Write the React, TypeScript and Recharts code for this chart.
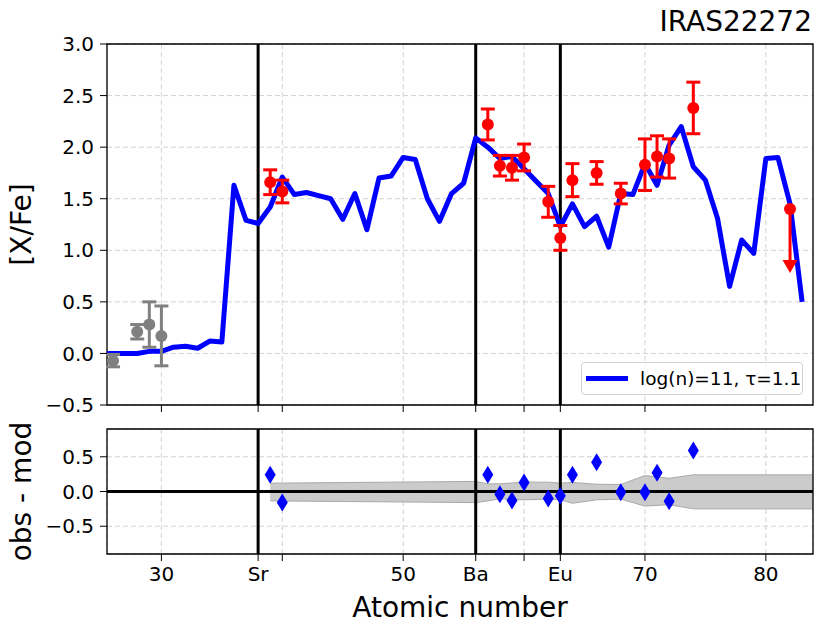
import React from "react"
import {
  ComposedChart,
  Line,
  Area,
  Scatter,
  ErrorBar,
  XAxis,
  YAxis,
  CartesianGrid,
  ReferenceLine,
  ReferenceArea,
} from "recharts"

const FONT = "DejaVu Sans"

// model curve, log(n)=11, tau=1.1
const modelZ = [
  25, 26, 27, 28, 29, 30, 31, 32, 33, 34, 35, 36, 37, 38, 39, 40, 41, 42, 43, 44,
  45, 46, 47, 48, 49, 50, 51, 52, 53, 54, 55, 56, 57, 58, 59, 60, 61, 62, 63, 64,
  65, 66, 67, 68, 69, 70, 71, 72, 73, 74, 75, 76, 77, 78, 79, 80, 81, 82, 83,
]
const modelXFe = [
  0.0, 0.0, 0.0, 0.0, 0.02, 0.02, 0.06, 0.07, 0.05, 0.12, 0.11, 1.63, 1.29, 1.26, 1.42, 1.71, 1.54, 1.56, 1.53, 1.5,
  1.3, 1.55, 1.2, 1.7, 1.72, 1.9, 1.88, 1.5, 1.28, 1.55, 1.65, 2.09, 2.0, 1.89, 1.91, 1.79, 1.67, 1.55, 1.23, 1.45,
  1.23, 1.33, 1.03, 1.55, 1.54, 1.84, 1.63, 2.02, 2.2, 1.81, 1.68, 1.31, 0.65, 1.1, 0.97, 1.89, 1.9, 1.45, 0.5,
]

// observed s-process elements (red)
const obsZ = [39, 40, 57, 58, 59, 60, 62, 63, 64, 66, 68, 70, 71, 72, 74]
const obsXFe = [1.66, 1.57, 2.22, 1.82, 1.8, 1.9, 1.47, 1.12, 1.68, 1.75, 1.55, 1.83, 1.91, 1.89, 2.38]
const obsErr = [0.12, 0.11, 0.15, 0.1, 0.12, 0.13, 0.15, 0.12, 0.16, 0.11, 0.1, 0.25, 0.2, 0.19, 0.25]

// light elements (gray)
const lightZ = [26, 28, 29, 30]
const lightXFe = [-0.07, 0.21, 0.28, 0.17]
const lightErr = [0.06, 0.07, 0.22, 0.29]

// Pb upper limit
const limZ = 82
const limXFe = 1.4
const limStemEnd = 0.9
const limTip = 0.78

// residuals
const diffZ = [39, 40, 57, 58, 59, 60, 62, 63, 64, 66, 68, 70, 71, 72, 74]
const diffVal = [0.24, -0.16, 0.24, -0.04, -0.13, 0.13, -0.1, -0.06, 0.24, 0.42, -0.01, -0.01, 0.27, -0.14, 0.59]

// model uncertainty band
const bandZ = [39, 56, 57, 58, 60, 62, 63, 64, 66, 68, 70, 72, 74, 84]
const bandLow = [-0.135, -0.16, -0.135, -0.105, -0.12, -0.11, -0.12, -0.17, -0.12, -0.11, -0.21, -0.19, -0.25, -0.25]
const bandHigh = [0.12, 0.145, 0.11, 0.11, 0.135, 0.135, 0.12, 0.13, 0.105, 0.1, 0.23, 0.19, 0.24, 0.24]

const xTicks = [30, 38, 40, 50, 56, 60, 63, 70, 80]
const xTickLabels = ["30", "Sr", "", "50", "Ba", "", "Eu", "70", "80"]
const markedZ = [38, 56, 63]
const yTicksTop = [-0.5, 0, 0.5, 1, 1.5, 2, 2.5, 3]
const yTicksBottom = [-0.5, 0, 0.5]

const X_DOMAIN: [number, number] = [25.5, 83.9]

const modelRows = modelZ.map((z, i) => ({ z, v: modelXFe[i] }))
const obsRows = obsZ.map((z, i) => ({ z, v: obsXFe[i], err: obsErr[i] }))
const lightRows = lightZ.map((z, i) => ({ z, v: lightXFe[i], err: lightErr[i] }))
const limRows = [{ z: limZ, v: limXFe }]
const limStem = [{ z: limZ, v: limXFe }, { z: limZ, v: limStemEnd }]
const limTipRows = [{ z: limZ, v: limTip }]
const diffRows = diffZ.map((z, i) => ({ z, v: diffVal[i] }))
const bandRows = bandZ.map((z, i) => ({ z, range: [bandLow[i], bandHigh[i]] }))

const fmtY = (v: number) => (v < 0 ? "\u2212" : "") + Math.abs(v).toFixed(1)
const fmtX = (v: number) => xTickLabels[xTicks.indexOf(v)] ?? String(v)

const tickStyle = { fill: "#000", fontSize: 20, fontFamily: FONT }
const gridColor = "#d3d3d3"

const dot = (color: string) => (p: any) => <circle cx={p.cx} cy={p.cy} r={6} fill={color} />
const arrowDown = (p: any) => (
  <path d={`M${p.cx - 7.5},${p.cy - 13} L${p.cx + 7.5},${p.cy - 13} L${p.cx},${p.cy} Z`} fill="#ff0000" />
)
const diamond = (p: any) => (
  <path d={`M${p.cx},${p.cy - 9} L${p.cx + 5.5},${p.cy} L${p.cx},${p.cy + 9} L${p.cx - 5.5},${p.cy} Z`} fill="#0000ff" />
)

const yTitle = (text: string) => (props: any) => {
  const vb = props.viewBox || { y: 0, height: 0 }
  const cy = vb.y + vb.height / 2
  return (
    <text x={31} y={cy} transform={`rotate(-90 31 ${cy})`} textAnchor="middle" fontSize={28} fontFamily={FONT} fill="#000">
      {text}
    </text>
  )
}

const xTitle = (props: any) => {
  const vb = props.viewBox || { x: 0, y: 0, width: 0 }
  return (
    <text x={vb.x + vb.width / 2} y={vb.y + 63} textAnchor="middle" fontSize={28} fontFamily={FONT} fill="#000">
      Atomic number
    </text>
  )
}

function TopPanel() {
  return (
    <ComposedChart width={830} height={430} data={modelRows} margin={{ top: 44, right: 17, bottom: 0, left: 0 }}>
      <CartesianGrid stroke={gridColor} strokeDasharray="5 3" />
      <XAxis
        dataKey="z"
        type="number"
        domain={X_DOMAIN}
        allowDataOverflow
        ticks={xTicks}
        tickFormatter={() => ""}
        height={25}
        tickSize={7}
        axisLine={false}
        tickLine={{ stroke: "#000" }}
      />
      <YAxis
        type="number"
        domain={[-0.5, 3]}
        allowDataOverflow
        ticks={yTicksTop}
        tickFormatter={fmtY}
        width={107}
        tickSize={7}
        tickMargin={6}
        tick={tickStyle}
        axisLine={false}
        tickLine={{ stroke: "#000" }}
        label={{ value: "[X/Fe]", content: yTitle("[X/Fe]") }}
      />
      {markedZ.map((z) => (
        <ReferenceLine key={z} x={z} stroke="#000" strokeWidth={3} />
      ))}
      <Line dataKey="v" stroke="#0000ff" strokeWidth={5} dot={false} strokeLinejoin="round" isAnimationActive={false} />
      <Scatter data={lightRows} dataKey="v" shape={dot("#808080")} isAnimationActive={false}>
        <ErrorBar dataKey="err" direction="y" width={7} stroke="#808080" strokeWidth={3} />
      </Scatter>
      <Scatter data={obsRows} dataKey="v" shape={dot("#ff0000")} isAnimationActive={false}>
        <ErrorBar dataKey="err" direction="y" width={7} stroke="#ff0000" strokeWidth={3} />
      </Scatter>
      <Line data={limStem} dataKey="v" stroke="#ff0000" strokeWidth={3} dot={false} isAnimationActive={false} />
      <Scatter data={limRows} dataKey="v" shape={dot("#ff0000")} isAnimationActive={false} />
      <Scatter data={limTipRows} dataKey="v" shape={arrowDown} isAnimationActive={false} />
      <ReferenceArea x1={X_DOMAIN[0]} x2={X_DOMAIN[1]} y1={-0.5} y2={3} fill="none" stroke="#000" strokeWidth={1.3} />
    </ComposedChart>
  )
}

function BottomPanel() {
  return (
    <ComposedChart width={830} height={213} data={bandRows} margin={{ top: 19, right: 17, bottom: 0, left: 0 }}>
      <CartesianGrid stroke={gridColor} strokeDasharray="5 3" />
      <XAxis
        dataKey="z"
        type="number"
        domain={X_DOMAIN}
        allowDataOverflow
        ticks={xTicks}
        tickFormatter={fmtX}
        height={69}
        tickSize={7}
        tickMargin={6}
        tick={tickStyle}
        axisLine={false}
        tickLine={{ stroke: "#000" }}
        label={{ value: "Atomic number", content: xTitle }}
      />
      <YAxis
        type="number"
        domain={[-0.9, 0.9]}
        allowDataOverflow
        ticks={yTicksBottom}
        tickFormatter={fmtY}
        width={107}
        tickSize={7}
        tickMargin={6}
        tick={tickStyle}
        axisLine={false}
        tickLine={{ stroke: "#000" }}
        label={{ value: "obs - mod", content: yTitle("obs - mod") }}
      />
      <Area
        dataKey="range"
        type="linear"
        fill="#cbcbcb"
        fillOpacity={1}
        stroke="#a9a9a9"
        strokeWidth={1}
        dot={false}
        activeDot={false}
        isAnimationActive={false}
      />
      <ReferenceLine y={0} stroke="#000" strokeWidth={3} />
      {markedZ.map((z) => (
        <ReferenceLine key={z} x={z} stroke="#000" strokeWidth={3} />
      ))}
      <Scatter data={diffRows} dataKey="v" shape={diamond} isAnimationActive={false} />
      <ReferenceArea x1={X_DOMAIN[0]} x2={X_DOMAIN[1]} y1={-0.9} y2={0.9} fill="none" stroke="#000" strokeWidth={1.3} />
    </ComposedChart>
  )
}

export default function App() {
  return (
    <div style={{ position: "absolute", left: 0, top: 0, width: 830, height: 623, background: "#fff", fontFamily: FONT }}>
      <div style={{ position: "absolute", left: 0, top: 0 }}>
        <TopPanel />
      </div>
      <div style={{ position: "absolute", left: 0, top: 410 }}>
        <BottomPanel />
      </div>
      <div
        style={{
          position: "absolute",
          right: 18,
          top: 8,
          fontSize: 28,
          lineHeight: "28px",
          color: "#000",
        }}
      >
        IRAS22272
      </div>
      <div
        style={{
          position: "absolute",
          left: 581,
          top: 362,
          width: 222,
          height: 33,
          boxSizing: "border-box",
          border: "1px solid #d0d0d0",
          borderRadius: 4,
          background: "rgba(255,255,255,0.8)",
          display: "flex",
          alignItems: "center",
        }}
      >
        <div style={{ width: 42, height: 5, background: "#0000ff", marginLeft: 4 }} />
        <div style={{ marginLeft: 12, fontSize: 18.5, color: "#000", whiteSpace: "nowrap" }}>log(n)=11, {"\u03C4"}=1.1</div>
      </div>
    </div>
  )
}
